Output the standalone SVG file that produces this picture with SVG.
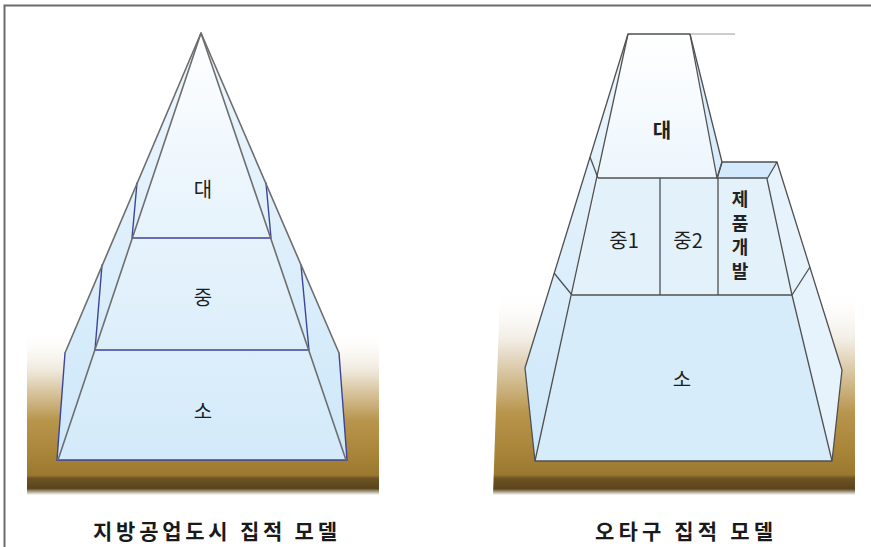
<svg xmlns="http://www.w3.org/2000/svg" width="871" height="547" viewBox="0 0 871 547">
  <style>
    .frame { fill: none; stroke: #6b6b6b; stroke-width: 2; }
    .glass { stroke: none; }
    .edge { fill: none; stroke: #6e6e6e; stroke-width: 1.6; stroke-linejoin: round; }
    .edge-thin { fill: none; stroke: #9a9a9a; stroke-width: 1; }
    .rim { fill: none; stroke: #3d4399; stroke-width: 1.4; stroke-linecap: round; }
    .line { fill: none; stroke: #505050; stroke-width: 1.3; stroke-linejoin: round; }
    .lbl { font-family: "Noto Sans CJK KR", "Noto Sans", sans-serif; font-size: 20px; fill: #1e1e1e; text-anchor: middle; }
    .lbl-b { font-family: "Noto Sans CJK KR", "Noto Sans", sans-serif; font-size: 20px; font-weight: 700; fill: #222; text-anchor: middle; }
    .lbl-v { font-family: "Noto Sans CJK KR", "Noto Sans", sans-serif; font-size: 18px; font-weight: 700; fill: #222; text-anchor: middle; }
    .cap { font-family: "Noto Sans CJK KR", "Noto Sans", sans-serif; font-size: 21px; font-weight: 700; fill: #1a1a1a; text-anchor: middle; }
  </style>
  <defs>
    <linearGradient id="ground" x1="0" y1="330" x2="0" y2="495" gradientUnits="userSpaceOnUse">
      <stop offset="0" stop-color="#ffffff" stop-opacity="0"/>
      <stop offset="0.25" stop-color="#efe7da"/>
      <stop offset="0.55" stop-color="#b8954c"/>
      <stop offset="0.75" stop-color="#a88538"/>
      <stop offset="0.88" stop-color="#9a7830"/>
      <stop offset="0.9" stop-color="#6d5322"/>
      <stop offset="0.96" stop-color="#5a441b"/>
      <stop offset="1" stop-color="#ffffff"/>
    </linearGradient>
    <linearGradient id="ground2" x1="0" y1="290" x2="0" y2="495" gradientUnits="userSpaceOnUse">
      <stop offset="0" stop-color="#ffffff" stop-opacity="0"/>
      <stop offset="0.25" stop-color="#f1ebe2"/>
      <stop offset="0.6" stop-color="#b8954c"/>
      <stop offset="0.78" stop-color="#a88538"/>
      <stop offset="0.9" stop-color="#9a7830"/>
      <stop offset="0.92" stop-color="#6d5322"/>
      <stop offset="0.97" stop-color="#5a441b"/>
      <stop offset="1" stop-color="#ffffff"/>
    </linearGradient>
    <linearGradient id="body" x1="0" y1="33" x2="0" y2="461" gradientUnits="userSpaceOnUse">
      <stop offset="0" stop-color="#ffffff"/>
      <stop offset="0.4" stop-color="#e9f4fc"/>
      <stop offset="1" stop-color="#d3eafa"/>
    </linearGradient>
    <linearGradient id="wall" x1="0" y1="33" x2="0" y2="461" gradientUnits="userSpaceOnUse">
      <stop offset="0" stop-color="#eef7fd"/>
      <stop offset="1" stop-color="#cde7fa"/>
    </linearGradient>
  </defs>

  <!-- page frame -->
  <path class="frame" d="M4.5,547 V5.5 H871"/>

  <!-- ground boards -->
  <rect x="27" y="330" width="352" height="165" fill="url(#ground)"/>
  <polygon points="500,290 855,290 855,495 493,495" fill="url(#ground2)"/>

  <!-- left model: regional industrial city -->
  <g id="pyramid">
    <polygon class="glass" fill="url(#wall)" points="201,33 65,353 57,460 58,460"/>
    <polygon class="glass" fill="url(#wall)" points="201,33 339,353 347,460 346,460"/>
    <polygon class="glass" fill="url(#body)" points="201,33 346,460 58,460"/>
    <polyline class="rim" points="137,183 132,238 271,238 266,183"/>
    <polyline class="rim" points="102,265 95,350 309,350 301,265"/>
    <polyline class="rim" points="65,353 57,460 347,460 339,353"/>
    <polyline class="edge" points="65,353 201,33 339,353"/>
    <polyline class="edge" points="58,460 201,33 346,460"/>
  </g>
  <g id="p-top"><text class="lbl" x="203" y="197">대</text></g>
  <g id="p-mid"><text class="lbl" x="203" y="305">중</text></g>
  <g id="p-low"><text class="lbl" x="203" y="419">소</text></g>

  <!-- right model: Ota ward -->
  <g id="ota">
    <polygon class="glass" fill="url(#wall)" points="628,34 525,368 535,461"/>
    <polygon class="glass" fill="#d9edfb" points="690,34 722,162 717,178"/>
    <polygon class="glass" fill="#d2eafb" points="722,162 777,162 767,179 717,179"/>
    <polygon class="glass" fill="#e6f3fc" points="777,162 842,370 832,461 792,295 767,179"/>
    <polygon class="glass" fill="url(#body)" points="628,34 690,34 717,178 598,178"/>
    <polygon class="glass" fill="#e3f1fb" points="598,178 767,178 792,295 572,295"/>
    <polygon class="glass" fill="#d6ecfb" points="572,295 792,295 832,461 535,461"/>
    <line class="edge-thin" x1="690" y1="34" x2="735" y2="34"/>
    <polyline class="line" points="690,34 628,34 535,461 832,461 792,295 767,179"/>
    <polyline class="line" points="628,34 525,368 535,461"/>
    <polyline class="line" points="690,34 717,178"/>
    <polyline class="line" points="690,34 722,162 717,178"/>
    <polyline class="line" points="717,179 722,162 777,162 767,179"/>
    <polyline class="line" points="777,162 842,370 832,461"/>
    <line class="line" x1="590" y1="157" x2="598" y2="178"/>
    <line class="line" x1="554" y1="273" x2="572" y2="295"/>
    <line class="line" x1="810" y1="267" x2="792" y2="295"/>
    <line class="line" x1="598" y1="178" x2="767" y2="178"/>
    <line class="line" x1="572" y1="295" x2="792" y2="295"/>
    <line class="line" x1="660" y1="178" x2="660" y2="295"/>
    <line class="line" x1="718" y1="178" x2="718" y2="295"/>
  </g>
  <g id="o-top"><text class="lbl-b" x="662" y="138">대</text></g>
  <g id="o-mid1"><text class="lbl" x="624" y="248">중1</text></g>
  <g id="o-mid2"><text class="lbl" x="688" y="248">중2</text></g>
  <g id="o-dev">
    <text class="lbl-v" x="740" y="206">제</text>
    <text class="lbl-v" x="740" y="230">품</text>
    <text class="lbl-v" x="740" y="254">개</text>
    <text class="lbl-v" x="740" y="278">발</text>
  </g>
  <g id="o-low"><text class="lbl" x="682" y="387">소</text></g>

  <!-- captions -->
  <text class="cap" x="215" y="539" textLength="244" lengthAdjust="spacing">지방공업도시 집적 모델</text>
  <text class="cap" x="684" y="539" textLength="178" lengthAdjust="spacing">오타구 집적 모델</text>
</svg>
